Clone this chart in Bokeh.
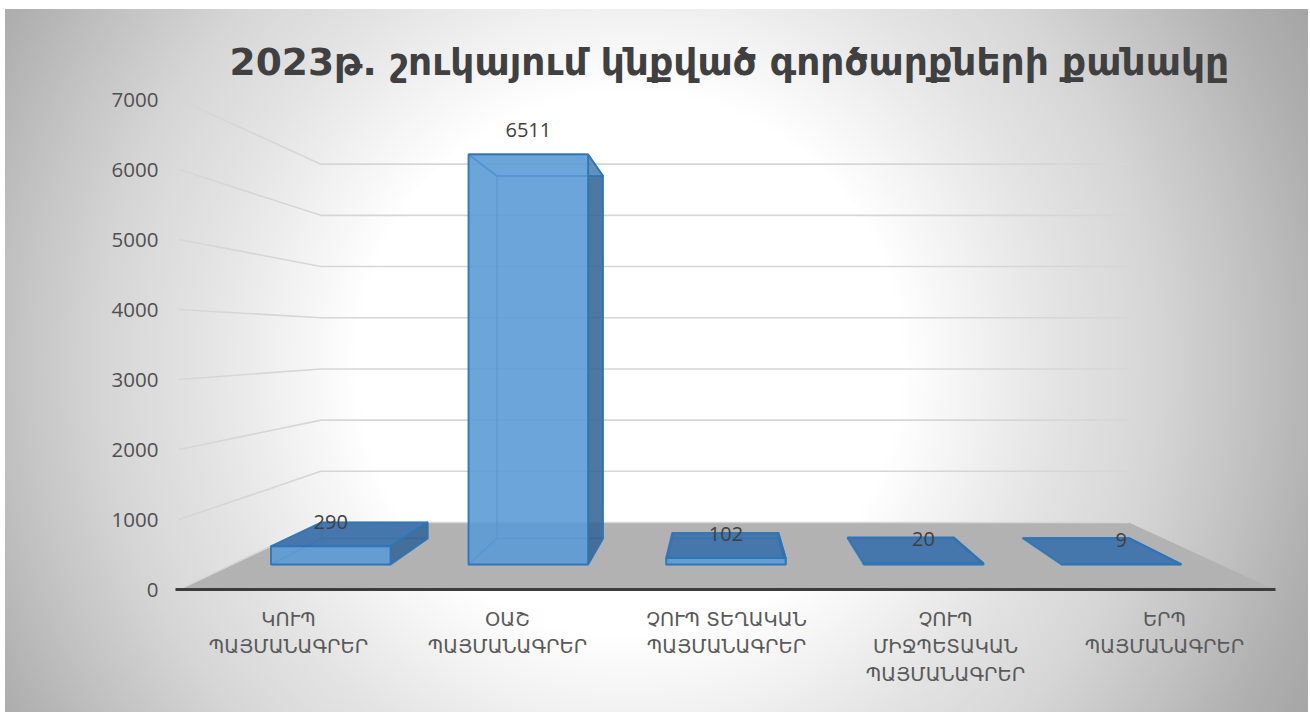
from bokeh.plotting import figure
from bokeh.models import Range1d, LinearAxis, FixedTicker
from bokeh.core.properties import value
from bokeh.embed import file_html
from bokeh.resources import INLINE

TITLE = "2023թ. շուկայում կնքված գործարքների քանակը"
categories = ["ԿՈՒՊ\nՊԱՅՄԱՆԱԳՐԵՐ", "ՕԱՇ\nՊԱՅՄԱՆԱԳՐԵՐ", "ՉՈՒՊ ՏԵՂԱԿԱՆ\nՊԱՅՄԱՆԱԳՐԵՐ",
              "ՉՈՒՊ\nՄԻՋՊԵՏԱԿԱՆ\nՊԱՅՄԱՆԱԳՐԵՐ", "ԵՐՊ\nՊԱՅՄԱՆԱԳՐԵՐ"]
values = [290, 6511, 102, 20, 9]
y_ticks = [0, 1000, 2000, 3000, 4000, 5000, 6000, 7000]

# perspective of the 3-D chart box, in data units
LEFT_SHIFT, RIGHT_SHIFT, FLOOR_RISE, SHRINK = 0.648, 0.662, 957, 0.2686
D_FRONT, D_BACK, HALF = 0.373, 0.761, 0.3025
N = len(categories)

def project(c, v, d):
    left = d * LEFT_SHIFT
    right = N - d * RIGHT_SHIFT
    return left + (right - left) * c / N, d * FLOOR_RISE + v * (1 - d * SHRINK)

def quad(points):
    pts = [project(*pt) for pt in points]
    return [a for a, _ in pts], [b for _, b in pts]

p = figure(width=1310, height=714, output_backend="svg", toolbar_location=None,
           x_range=Range1d(-7.5 / 219, 1131.5 / 219), y_range=Range1d(0, 7229),
           x_axis_type=None, y_axis_type=None, title=TITLE,
           min_border_left=171, min_border_right=0, min_border_bottom=125, min_border_top=83)
p.grid.visible = False
p.outline_line_color = None
p.background_fill_alpha = 0
p.border_fill_alpha = 0
p.styles = {"background": "radial-gradient(circle 760px at 625px 355px, #ffffff 270px, #e4e4e4 425px, "
                          "#d6d6d6 525px, #c2c2c2 620px, #b0b0b0 700px, #a6a6a6 760px) 5px 9px / 1303px 703px no-repeat"}

p.title.text_font = "DejaVu Sans"
p.title.text_font_size = "37.6px"
p.title.text_font_style = "bold"
p.title.text_color = "#404040"
p.title.align = "left"
p.title.standoff = 0
p.title.offset = 58

# walls and floor
floor = quad([(0, 0, 0), (N, 0, 0), (N, 0, 1), (0, 0, 1)])
p.patch(*floor, fill_color="#b2b2b2", line_color=None)
wall_x, wall_y = [], []
for t in y_ticks[1:] + [0]:
    a = quad([(0, t, 0), (0, t, 1), (N, t, 1)])
    wall_x.append(a[0])
    wall_y.append(a[1])
p.multi_line(wall_x, wall_y, line_color="#d6d6d6", line_width=1.6)

# bars, faces painted from the back to the front
EDGE = "#2e75b6"
LIGHT = "#5b9bd5"
SIDE = "#2f5b8c"
TOP = "#3a6ea8"
for i, v in enumerate(values):
    a, b = i + 0.5 - HALF, i + 0.5 + HALF
    f, k = D_FRONT, D_BACK
    faces = [
        ([(a, 0, k), (b, 0, k), (b, v, k), (a, v, k)], LIGHT, 0.5, 0.3),
        ([(a, 0, f), (a, 0, k), (a, v, k), (a, v, f)], LIGHT, 0.5, 0.3),
        ([(a, 0, f), (b, 0, f), (b, 0, k), (a, 0, k)], LIGHT, 0.5, 0.3),
        ([(b, 0, f), (b, 0, k), (b, v, k), (b, v, f)], SIDE, 0.75, 0.9),
    ]
    seen_from_above = project(a, v, k)[1] > project(a, v, f)[1]
    faces.append(([(a, v, f), (b, v, f), (b, v, k), (a, v, k)],
                  TOP if seen_from_above else LIGHT, 0.85 if seen_from_above else 0.5, 0.9))
    faces.append(([(a, 0, f), (b, 0, f), (b, v, f), (a, v, f)], LIGHT, 0.8, 0.95))
    for pts, color, alpha, edge_alpha in faces:
        xs, ys = quad(pts)
        p.patch(xs, ys, fill_color=color, fill_alpha=alpha, line_color=EDGE,
                line_alpha=edge_alpha, line_width=1.8)

# data labels
label_pos = [project(i + 0.5, v, D_FRONT) for i, v in enumerate(values)]
p.text([q[0] for q in label_pos], [q[1] for q in label_pos], text=[str(v) for v in values],
       text_font=value("Open Sans"), text_font_size="20px", text_color="#404040",
       text_align="center", text_baseline="middle", y_offset=-24)

# axes
left = LinearAxis(ticker=FixedTicker(ticks=y_ticks))
left.axis_line_color = None
left.major_tick_line_color = None
left.minor_tick_line_color = None
left.major_label_standoff = 7
left.major_label_text_font = "Open Sans"
left.major_label_text_font_size = "20.5px"
left.major_label_text_color = "#505050"
p.add_layout(left, "left")

label_ticks = [i + 0.5 for i in range(N)]
bottom = LinearAxis(ticker=FixedTicker(ticks=label_ticks))
bottom.major_label_overrides = dict(zip(label_ticks, categories))
bottom.bounds = (-3.5 / 219, N + 1.5 / 219)
bottom.axis_line_color = "#3c3c3c"
bottom.axis_line_width = 3
bottom.major_tick_line_color = None
bottom.minor_tick_line_color = None
bottom.major_label_standoff = 12
bottom.major_label_text_font = "DejaVu Sans"
bottom.major_label_text_font_size = "19.4px"
bottom.major_label_text_color = "#595959"
p.add_layout(bottom, "below")

open("out.html", "w").write(file_html(p, INLINE))
